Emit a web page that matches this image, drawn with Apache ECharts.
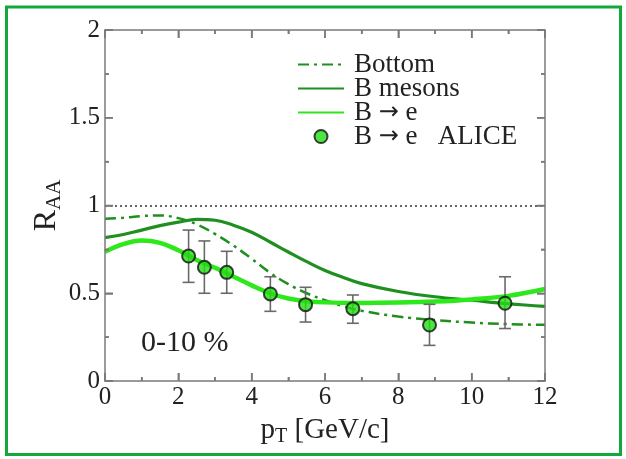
<!DOCTYPE html>
<html>
<head>
<meta charset="utf-8">
<script src="https://cdn.jsdelivr.net/npm/echarts@6/dist/echarts.min.js"></script>
<style>
  html, body { margin: 0; padding: 0; background: #fff; }
  #chart { width: 626px; height: 459px; }
</style>
</head>
<body>
<div id="chart"></div>
<script>
// curves [pT, R_AA]
var bottomCurve = [[0,0.925],[0.5,0.93],[1,0.94],[1.5,0.943],[2,0.928],[2.5,0.893],[3,0.838],[3.5,0.772],[4,0.697],[4.5,0.617],[5,0.552],[5.5,0.5],[6,0.46],[6.5,0.426],[7,0.4],[8,0.367],[9,0.347],[10,0.333],[11,0.324],[12,0.32]];
var bMesonCurve = [[0,0.817],[0.5,0.835],[1,0.86],[1.5,0.885],[2,0.905],[2.5,0.921],[3,0.916],[3.5,0.888],[4,0.848],[4.5,0.792],[5,0.735],[5.5,0.68],[6,0.63],[6.5,0.59],[7,0.555],[8,0.51],[9,0.48],[10,0.46],[11,0.44],[12,0.425]];
var bToECurve = [[0,0.737],[0.5,0.78],[1,0.8],[1.5,0.787],[2,0.745],[2.5,0.69],[3,0.645],[3.5,0.595],[4,0.545],[4.5,0.5],[5,0.47],[5.5,0.455],[6,0.448],[7,0.445],[8,0.447],[9,0.453],[10,0.465],[11,0.485],[12,0.524]];

// ALICE data: pT, R_AA, low, high
var alicePt   = [2.28, 2.71, 3.32, 4.51, 5.47, 6.76, 8.85, 10.91];
var aliceRaa  = [0.712, 0.648, 0.619, 0.496, 0.435, 0.412, 0.319, 0.443];
var aliceLow  = [0.562, 0.50, 0.50, 0.397, 0.336, 0.329, 0.203, 0.299];
var aliceHigh = [0.86, 0.798, 0.739, 0.594, 0.534, 0.49, 0.437, 0.594];

// frame tick positions (major every 2 / 0.5, minor halfway)
var xTickVals = [0, 1, 2, 3, 4, 5, 6, 7, 8, 9, 10, 11, 12];
var yTickVals = [0, 0.25, 0.5, 0.75, 1, 1.25, 1.5, 1.75, 2];

var xTicks = { min: 0, max: 12, interval: 2 };
var yTicks = { min: 0, max: 2, interval: 0.5 };

var serif = 'Liberation Serif';
var axisGray = '#7a7a7a';

var points = alicePt.map(function (x, i) { return [x, aliceRaa[i]]; });
var errBars = alicePt.map(function (x, i) { return [x, aliceLow[i], aliceHigh[i]]; });

var myChart = echarts.init(document.getElementById('chart'));

function frameAxis(pos, rng, label) {
  return {
    type: 'value',
    position: pos,
    z: 10,
    min: rng.min, max: rng.max, interval: rng.interval,
    splitLine: { show: false },
    axisLine: { show: true, onZero: false, lineStyle: { color: axisGray, width: 1.5 } },
    axisTick: { show: true, inside: true, length: 8, lineStyle: { color: axisGray, width: 1.5 } },
    minorTick: { show: true, splitNumber: 2, length: 4, lineStyle: { color: axisGray, width: 1.5 } },
    axisLabel: label || { show: false }
  };
}

var xMain = frameAxis('bottom', xTicks, { fontFamily: serif, fontSize: 25, color: '#222', margin: 4 });
xMain.name = '{m|p}{s|T}{m| [GeV/c]}';
xMain.nameLocation = 'middle';
xMain.nameGap = 32;
xMain.nameMoveOverlap = false;
xMain.nameTextStyle = {
  rich: {
    m: { fontFamily: serif, fontSize: 29, color: '#222' },
    s: { fontFamily: serif, fontSize: 20, color: '#222', verticalAlign: 'bottom', padding: [14, 0, 0, 0] }
  }
};

var yMain = frameAxis('left', yTicks, { fontFamily: serif, fontSize: 25, color: '#222', margin: 5 });
yMain.name = '{m|R}{s|AA}';
yMain.nameLocation = 'middle';
yMain.nameGap = 40;
yMain.nameMoveOverlap = false;
yMain.nameTextStyle = {
  rich: {
    m: { fontFamily: serif, fontSize: 32, color: '#222' },
    s: { fontFamily: serif, fontSize: 21, color: '#222', verticalAlign: 'bottom', padding: [16, 0, 0, 0] }
  }
};

// inward ticks on all four sides, placed through the axes' scales
function tickRenderer(dir) {
  return function (params, api) {
    var v = api.value(dir === 'x' ? 0 : 1);
    var major = dir === 'x' ? (v % 2 === 0) : (Math.abs(v * 2 - Math.round(v * 2)) < 1e-9);
    var len = major ? 8 : 4;
    var st = { stroke: axisGray, lineWidth: 1.5 };
    var a, b;
    if (dir === 'x') {
      a = api.coord([v, yTicks.min]);
      b = api.coord([v, yTicks.max]);
      return { type: 'group', children: [
        { type: 'line', shape: { x1: a[0], y1: a[1], x2: a[0], y2: a[1] - len }, style: st },
        { type: 'line', shape: { x1: b[0], y1: b[1], x2: b[0], y2: b[1] + len }, style: st }
      ] };
    }
    a = api.coord([xTicks.min, v]);
    b = api.coord([xTicks.max, v]);
    return { type: 'group', children: [
      { type: 'line', shape: { x1: a[0], y1: a[1], x2: a[0] + len, y2: a[1] }, style: st },
      { type: 'line', shape: { x1: b[0], y1: b[1], x2: b[0] - len, y2: b[1] }, style: st }
    ] };
  };
}

var arrowRich = {
  a: { fontFamily: 'DejaVu Sans', fontSize: 24, color: '#222', lineHeight: 24 }
};

var option = {
  backgroundColor: '#fff',
  animation: false,
  grid: { left: 105, right: 81, top: 30, bottom: 78 },
  legend: {
    orient: 'vertical',
    left: 292,
    top: 46,
    itemWidth: 46,
    itemHeight: 13,
    itemGap: -3,
    data: [
      { name: 'Bottom', itemStyle: { opacity: 0 } },
      { name: 'B mesons', itemStyle: { opacity: 0 } },
      { name: 'B \u2192 e', itemStyle: { opacity: 0 } },
      'B \u2192 e   ALICE'
    ],
    formatter: function (name) { return name.replace('\u2192', '{a|\u2192}'); },
    textStyle: { fontFamily: serif, fontSize: 27, color: '#222', lineHeight: 24, padding: [0, 0, 0, 5], rich: arrowRich }
  },
  xAxis: [xMain, frameAxis('top', xTicks)],
  yAxis: [yMain, frameAxis('right', yTicks)],
  graphic: [
    {
      type: 'rect',
      z: -10,
      shape: { x: 6.5, y: 7, width: 614, height: 447.5 },
      style: { fill: null, stroke: '#12a83a', lineWidth: 3 },
      silent: true
    },
    {
      type: 'text',
      left: 141,
      top: 328,
      style: { text: '0-10 %', fontFamily: serif, fontSize: 30, fill: '#222' }
    }
  ],
  series: [
    {
      name: 'xFrameTicks',
      type: 'custom',
      silent: true,
      z: 10,
      data: xTickVals.map(function (v) { return [v, 0]; }),
      renderItem: tickRenderer('x')
    },
    {
      name: 'yFrameTicks',
      type: 'custom',
      silent: true,
      z: 10,
      data: yTickVals.map(function (v) { return [0, v]; }),
      renderItem: tickRenderer('y')
    },
    {
      name: 'Bottom',
      type: 'line',
      data: bottomCurve,
      smooth: 0.4,
      symbol: 'none',
      lineStyle: { color: '#1f8f1f', width: 2.5, type: [11, 5, 3, 5] },
      itemStyle: { color: '#1f8f1f' },
      markLine: {
        silent: true,
        symbol: 'none',
        label: { show: false },
        lineStyle: { color: '#333', type: [2, 3], width: 1.5 },
        data: [{ yAxis: 1 }]
      },
      z: 3
    },
    {
      name: 'B mesons',
      type: 'line',
      data: bMesonCurve,
      smooth: 0.4,
      symbol: 'none',
      lineStyle: { color: '#1f8f1f', width: 3.2 },
      itemStyle: { color: '#1f8f1f' },
      z: 3
    },
    {
      name: 'B \u2192 e',
      type: 'line',
      data: bToECurve,
      smooth: 0.4,
      symbol: 'none',
      lineStyle: { color: '#2de81a', width: 4.5 },
      itemStyle: { color: '#2de81a' },
      z: 3
    },
    {
      name: 'errors',
      type: 'custom',
      data: errBars,
      z: 4,
      renderItem: function (params, api) {
        var lo = api.coord([api.value(0), api.value(1)]);
        var hi = api.coord([api.value(0), api.value(2)]);
        var w = 6;
        var st = { stroke: '#6a6a6a', lineWidth: 1.6 };
        return {
          type: 'group',
          children: [
            { type: 'line', shape: { x1: lo[0], y1: lo[1], x2: hi[0], y2: hi[1] }, style: st },
            { type: 'line', shape: { x1: lo[0] - w, y1: lo[1], x2: lo[0] + w, y2: lo[1] }, style: st },
            { type: 'line', shape: { x1: hi[0] - w, y1: hi[1], x2: hi[0] + w, y2: hi[1] }, style: st }
          ]
        };
      }
    },
    {
      name: 'B \u2192 e   ALICE',
      type: 'scatter',
      data: points,
      symbol: 'circle',
      symbolSize: 13,
      itemStyle: { color: '#22dd11', borderColor: '#111', borderWidth: 2 },
      z: 5
    }
  ]
};

myChart.setOption(option);
</script>
</body>
</html>
